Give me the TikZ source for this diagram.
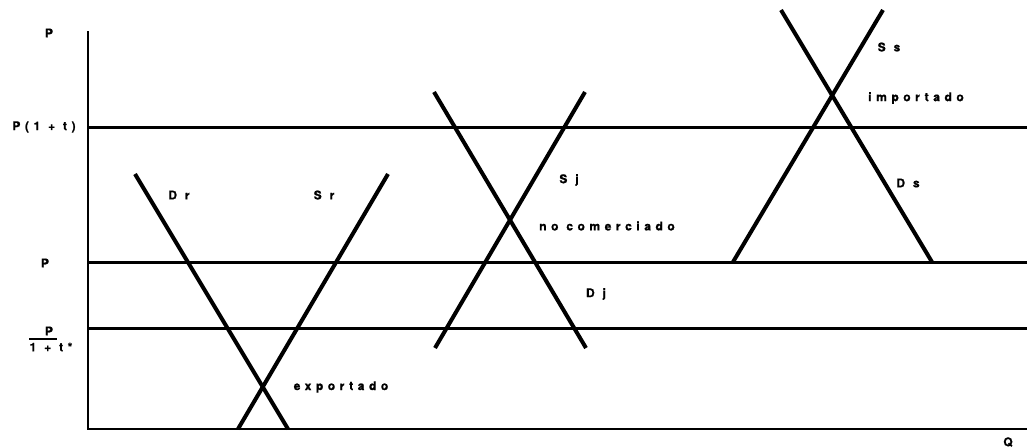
\documentclass[tikz,border=0pt]{standalone}
\usepackage{fontspec}
\setmainfont{TeX Gyre Heros}
\newfontfamily\lblfont{TeX Gyre Heros}[LetterSpace=38,FakeBold=1]
\begin{document}
\begin{tikzpicture}[x=1pt,y=-1pt,
  lbl/.style={font=\lblfont\bfseries\fontsize{12}{14}\selectfont, inner sep=0pt},
  curve/.style={line width=4pt},
  level/.style={line width=3pt},
  axis/.style={line width=2pt}]
\useasboundingbox (0,0) rectangle (1027,447);
% axes
\coordinate (O) at (88,429);
\coordinate (Ytop) at (88,31);
\coordinate (Xend) at (1027,429);
\draw[axis] (Ytop) -- (O) -- (Xend);
% price levels
\coordinate (L1a) at (88,127); \coordinate (L1b) at (1027,127);
\coordinate (L2a) at (88,262); \coordinate (L2b) at (1027,262);
\coordinate (L3a) at (88,328); \coordinate (L3b) at (1027,328);
\draw[level] (L1a) -- (L1b);
\draw[level] (L2a) -- (L2b);
\draw[level] (L3a) -- (L3b);
% left cross (exportado)
\coordinate (Dr1) at (135,174); \coordinate (Dr2) at (288,429);
\coordinate (Sr1) at (388,174); \coordinate (Sr2) at (238,429);
\draw[curve] (Dr1) -- (Dr2);
\draw[curve] (Sr1) -- (Sr2);
% middle cross (no comerciado)
\coordinate (Dj1) at (434,92); \coordinate (Dj2) at (586,348);
\coordinate (Sj1) at (585,92); \coordinate (Sj2) at (435,348);
\draw[curve] (Dj1) -- (Dj2);
\draw[curve] (Sj1) -- (Sj2);
% right cross (importado)
\coordinate (Ds1) at (781,10); \coordinate (Ds2) at (932,262);
\coordinate (Ss1) at (883,10); \coordinate (Ss2) at (733,262);
\draw[curve] (Ds1) -- (Ds2);
\draw[curve] (Ss1) -- (Ss2);
% axis labels
\node[lbl] (pTop) at (49,33) {P};
\node[lbl] (p1t) at (44,127) {P(1 + t)};
\node[lbl] (pMid) at (45,263) {P};
\node[lbl] (fracN) at (49,331) {P};
\node[lbl] (fracD) at (51,347) {1 + t*};
\coordinate (fl1) at (29,339); \coordinate (fl2) at (57,339);
\draw[line width=1.2pt] (fl1) -- (fl2);
\node[lbl] (q) at (1008,442) {Q};
% curve labels
\node[lbl] (lDr) at (179,195) {D r};
\node[lbl] (lSr) at (324,195) {S r};
\node[lbl] (lSj) at (569,180) {S j};
\node[lbl] (lnc) at (607,226) {no comerciado};
\node[lbl] (lDj) at (596,294) {D j};
\node[lbl] (lex) at (341,387) {exportado};
\node[lbl] (lSs) at (889,47) {S s};
\node[lbl] (lim) at (916,98) {importado};
\node[lbl] (lDs) at (908,183) {D s};
\end{tikzpicture}
\end{document}
